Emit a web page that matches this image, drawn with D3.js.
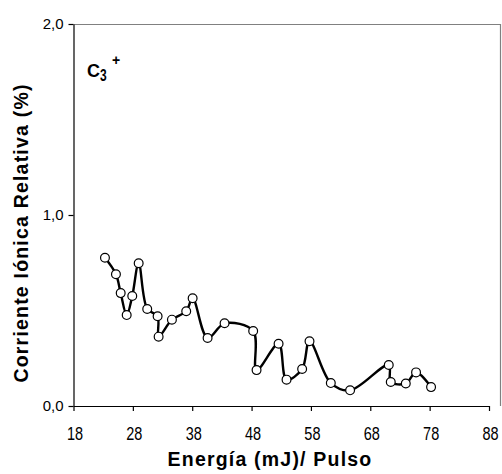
<!DOCTYPE html>
<html><head><meta charset="utf-8">
<script src="https://cdn.jsdelivr.net/npm/d3@7"></script>
<style>body{margin:0;background:#fff}svg{display:block}</style>
</head><body><svg id="c" width="502" height="474"></svg>
<script>
const energy = [23.3,25.15,25.95,26.96,27.9,28.98,30.42,32.17,32.34,34.58,36.99,38.07,40.59,43.45,48.27,48.84,52.55,53.89,56.52,57.76,61.35,64.6,71.11,71.45,73.98,75.71,78.24];
const current = [0.776,0.69,0.591,0.476,0.576,0.747,0.508,0.47,0.363,0.452,0.496,0.564,0.356,0.433,0.393,0.188,0.326,0.138,0.194,0.339,0.12,0.082,0.215,0.126,0.118,0.176,0.099];
const xTicks = [18,28,38,48,58,68,78,88];
const yTicks = [0,1,2];

const svg = d3.select("#c");
const x = d3.scaleLinear().domain([18,88]).range([73.5,489]);
const y = d3.scaleLinear().domain([0,2]).range([406,24]);
const font = "'Liberation Sans', Arial, sans-serif";

// frame (top and right)
svg.append("path").attr("d",`M73.5,24.5H500.5V406`).attr("fill","none").attr("stroke","#808080").attr("stroke-width",1.2);

const xa = svg.append("g").attr("transform","translate(0,406)")
  .call(d3.axisBottom(x).tickValues(xTicks).tickSize(5).tickSizeOuter(0).tickFormat(""));
const ya = svg.append("g").attr("transform","translate(73.5,0)")
  .call(d3.axisLeft(y).tickValues(yTicks).tickSize(5).tickSizeOuter(0).tickPadding(5).tickFormat(d=>d.toFixed(1).replace(".",",")));
[xa,ya].forEach(a=>{
  a.selectAll("path").attr("stroke","#000").attr("stroke-width",1.2);
  a.selectAll("line").attr("stroke","#000").attr("stroke-width",1.2);
  a.selectAll("text").attr("font-family",font).attr("font-size",15).attr("fill","#000");
});
// x tick labels (taller glyphs, as in the reference)
svg.append("g").selectAll("text").data(xTicks).enter().append("text")
  .attr("transform",d=>`translate(${x(d)+1.5},440) scale(1,1.3)`)
  .attr("text-anchor","middle").attr("font-family",font).attr("font-size",14.5).text(d=>d);

const line = d3.line().x((d,i)=>x(energy[i])).y((d,i)=>y(current[i])).curve(d3.curveCatmullRom.alpha(0.5));
svg.append("path").datum(current).attr("d",line).attr("fill","none").attr("stroke","#000").attr("stroke-width",2.4);

svg.selectAll("circle.p").data(current).enter().append("circle")
  .attr("cx",(d,i)=>x(energy[i])).attr("cy",d=>y(d)).attr("r",4.4)
  .attr("fill","#fff").attr("stroke","#000").attr("stroke-width",1.2);

svg.append("text").attr("x",270).attr("y",466).attr("text-anchor","middle")
  .attr("font-family",font).attr("font-weight","bold").attr("font-size",19.5).attr("letter-spacing",1.2).text("Energía (mJ)/ Pulso");
svg.append("text").attr("transform","translate(28,233) rotate(-90)").attr("text-anchor","middle")
  .attr("font-family",font).attr("font-weight","bold").attr("font-size",19.5).attr("letter-spacing",1.2).text("Corriente Iónica Relativa (%)");

svg.append("text").attr("x",87).attr("y",77).attr("font-family",font).attr("font-weight","bold").attr("font-size",18).text("C");
svg.append("text").attr("transform","translate(100,81) scale(1,1.3)").attr("font-family",font).attr("font-weight","bold").attr("font-size",12).text("3");
svg.append("text").attr("x",112).attr("y",65).attr("font-family",font).attr("font-weight","bold").attr("font-size",14).text("+");
</script></body></html>
